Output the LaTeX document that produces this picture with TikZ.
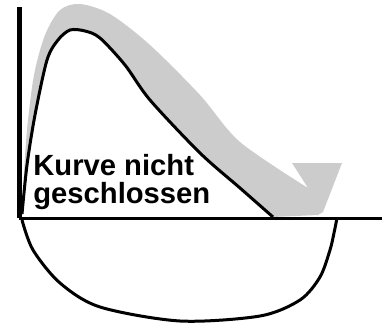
\documentclass[tikz,border=0pt]{standalone}
\usepackage{fontspec}
\setmainfont{Liberation Sans}
\usetikzlibrary{positioning}
\tikzset{
axisline/.style={line width=2.4pt},
baseline/.style={line width=1.5pt},
curve/.style={line width=1.5pt,line join=round},
band/.style={fill=black!20,draw=none},
kurvetext/.style={font=\bfseries\fontsize{14.6}{14}\selectfont,inner sep=0pt}
}
\begin{document}
\begin{tikzpicture}[x=0.5pt,y=-0.5pt]
\useasboundingbox (0,0) rectangle (382,323);
% shaded band with arrow head
\fill[band] plot[smooth] coordinates {(22,214) (27,165) (35,115) (47,60) (58,40) (70,30) (85,31) (100,38) (125,65) (150,100) (200,153) (240,188) (273,217)}
  -- (318,215) -- (323,212) -- (342,163) -- (292,163) -- (308,188)
  -- plot[smooth] coordinates {(308,188) (240,142) (200,95) (150,45) (110,14) (80,4) (60,10) (45,35) (34,75) (27,130) (23,190) (22,214)} -- cycle;
% axes
\coordinate (top) at (19.5,7);
\coordinate (origin) at (19.5,218);
\coordinate (right) at (382,218);
\draw[axisline] (top) -- (origin);
\draw[baseline] (origin) -- (right);
% upper curve
\draw[curve] plot[smooth] coordinates {(22,214) (27,165) (35,115) (47,60) (58,40) (70,30) (85,31) (100,38) (125,65) (150,100) (200,153) (240,188) (273,217)};
% lower curve
\draw[curve] plot[smooth] coordinates {(22,220) (33,250) (60,283) (100,307) (180,321) (260,316) (300,300) (320,277) (330,250) (334,233) (337,218)};
% text
\node[kurvetext,anchor=base west] (line1) at (33,175) {Kurve nicht};
\node[kurvetext,anchor=base west] (line2) at ([yshift=-14pt]line1.base west) {geschlossen};
\end{tikzpicture}
\end{document}
